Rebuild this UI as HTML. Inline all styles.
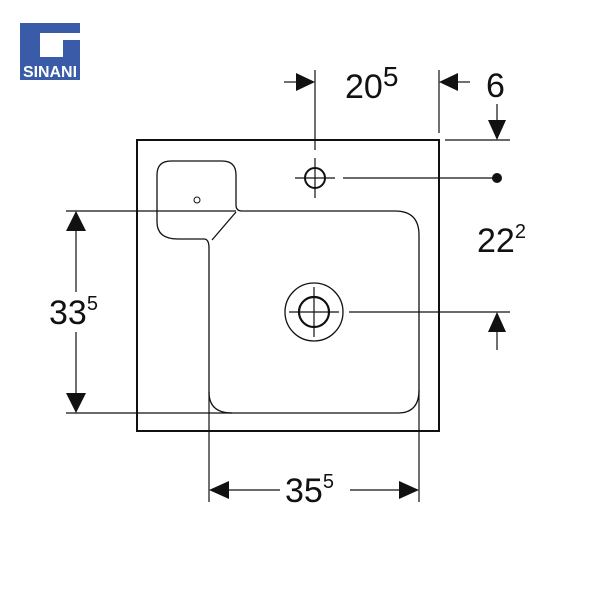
<!DOCTYPE html>
<html><head><style>body{margin:0;background:#fff}svg{display:block}</style></head><body>
<svg width="600" height="600" viewBox="0 0 600 600" xmlns="http://www.w3.org/2000/svg" font-family="Liberation Sans, sans-serif">
<rect width="600" height="600" fill="#fff"/>
<!-- logo -->
<rect x="20" y="23" width="60" height="57" fill="#3a5ba8"/>
<rect x="40" y="33" width="40" height="24" fill="#fff"/>
<rect x="63" y="40" width="17" height="17" fill="#3a5ba8"/>
<text x="50" y="77" font-size="16" font-weight="bold" fill="#fff" text-anchor="middle" textLength="54" lengthAdjust="spacingAndGlyphs">SINANI</text>
<g fill="none" stroke="#111">
<rect x="137" y="140" width="302" height="291" stroke-width="2"/>
<path d="M236,205 V175 Q236,161 222,161 H171 Q157,161 157,175 V222 Q157,239 178,239 H204 Q209,239 209,248 V392 Q209,413 232,413 H398 Q419,413 419,390 V235 Q419,211 395,211 H242 Q236,211 236,205 M236,212 L212,240" stroke-width="1.3"/>
<circle cx="197" cy="200" r="3" stroke-width="1"/>
<circle cx="315" cy="178" r="10" stroke-width="2"/>
<circle cx="314" cy="312" r="29" stroke-width="1.3"/>
<circle cx="314" cy="312" r="15" stroke-width="2.2"/>
</g>
<g stroke="#111" stroke-width="1.2" fill="none">
<line x1="295" y1="178" x2="335" y2="178"/><line x1="315" y1="158" x2="315" y2="198"/>
<line x1="289" y1="312" x2="339" y2="312"/><line x1="314" y1="287" x2="314" y2="337"/>
<line x1="343" y1="178" x2="497" y2="178"/>
<line x1="349" y1="312" x2="510" y2="312"/>
<line x1="315" y1="70" x2="315" y2="150"/>
<line x1="439" y1="70" x2="439" y2="133"/>
<line x1="284" y1="82" x2="300" y2="82"/>
<line x1="454" y1="82" x2="470" y2="82"/>
<line x1="497" y1="104" x2="497" y2="125"/>
<line x1="445" y1="140" x2="510" y2="140"/>
<line x1="497" y1="325" x2="497" y2="350"/>
<line x1="66" y1="211" x2="236" y2="211"/>
<line x1="66" y1="413" x2="232" y2="413"/>
<line x1="76" y1="228" x2="76" y2="292"/>
<line x1="76" y1="332" x2="76" y2="396"/>
<line x1="209" y1="392" x2="209" y2="502"/>
<line x1="419" y1="390" x2="419" y2="502"/>
<line x1="226" y1="490" x2="280" y2="490"/>
<line x1="350" y1="490" x2="402" y2="490"/>
</g>
<g fill="#111">
<circle cx="497" cy="178" r="5"/>
<polygon points="315,82 296,73 296,91"/>
<polygon points="439,82 458,73 458,91"/>
<polygon points="497,140 488,120 506,120"/>
<polygon points="497,312 488,332 506,332"/>
<polygon points="76,211 66,231 86,231"/>
<polygon points="76,413 66,393 86,393"/>
<polygon points="209,490 229,481 229,499"/>
<polygon points="419,490 399,481 399,499"/>
</g>
<g fill="#111" font-size="34">
<text x="345" y="98">20<tspan font-size="28" dy="-12">5</tspan></text>
<text x="486" y="97">6</text>
<text x="477" y="252">22<tspan font-size="20" dy="-14">2</tspan></text>
<text x="49" y="324">33<tspan font-size="20" dy="-14">5</tspan></text>
<text x="285" y="502">35<tspan font-size="20" dy="-14">5</tspan></text>
</g>
</svg>
</body></html>
